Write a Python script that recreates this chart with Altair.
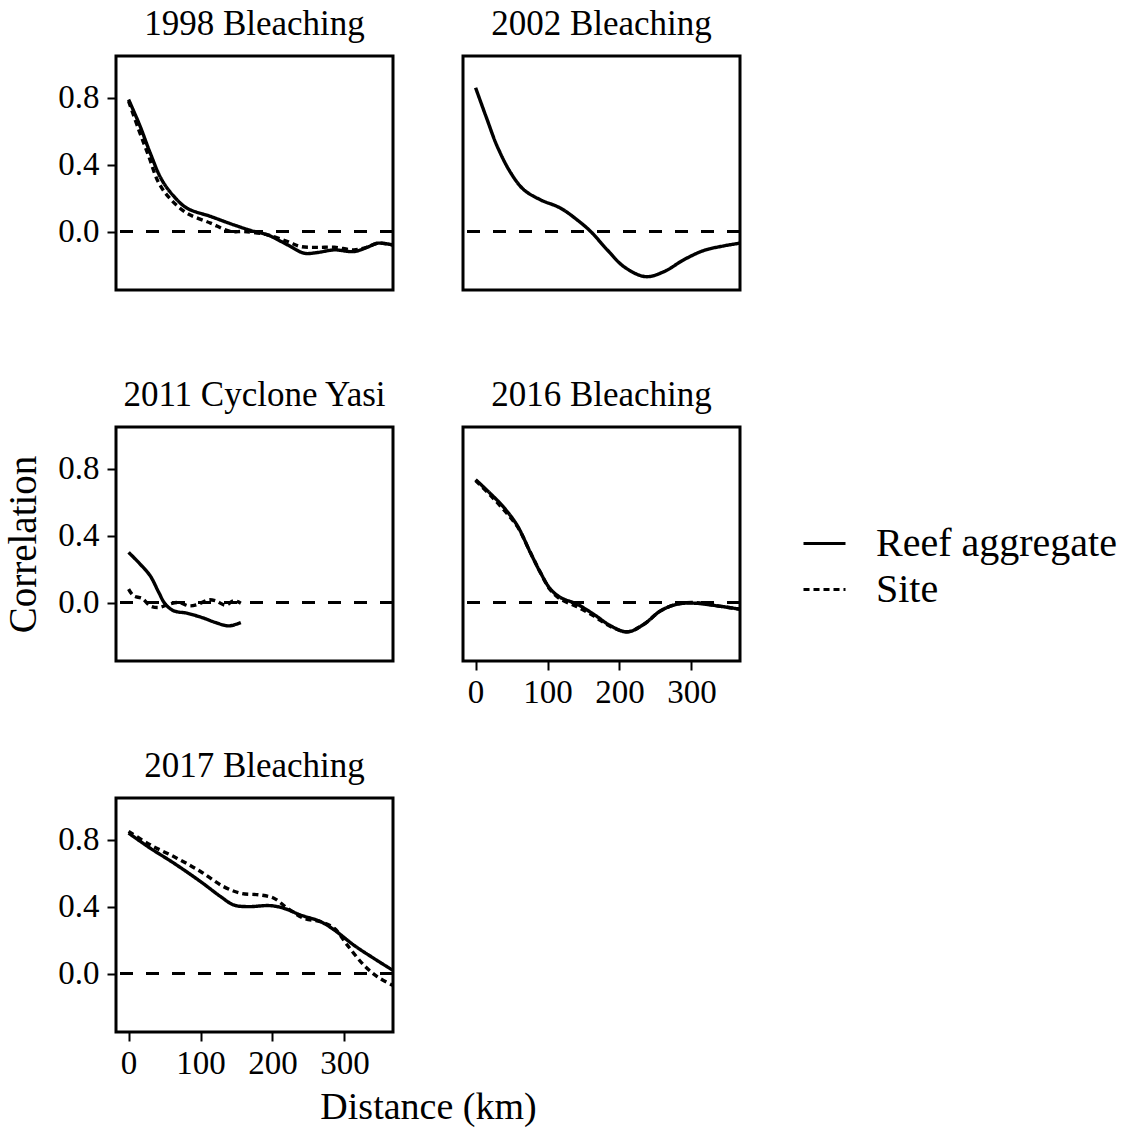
import altair as alt
import pandas as pd

FONT = "Liberation Serif"

# Correlation vs distance, per disturbance event and spatial scale
km_1998_reef = [0, 16, 30, 46, 63, 81, 114, 146, 170, 193, 221, 244, 262, 286, 313, 332, 346, 367]
r_1998_reef = [0.79, 0.63, 0.47, 0.31, 0.21, 0.14, 0.09, 0.04, 0.006, -0.02, -0.08, -0.13, -0.126, -0.11, -0.12, -0.094, -0.07, -0.08]
km_1998_site = [0, 14, 28, 42, 59, 81, 114, 142, 160, 193, 221, 239, 262, 286, 313, 332, 346, 367]
r_1998_site = [0.78, 0.61, 0.45, 0.29, 0.19, 0.11, 0.05, 0.0, 0.0, -0.02, -0.06, -0.09, -0.095, -0.094, -0.11, -0.094, -0.07, -0.08]

km_2002_reef = [0, 16, 30, 49, 67, 90, 118, 141, 160, 183, 206, 236, 262, 289, 317, 345, 367]
r_2002_reef = [0.86, 0.67, 0.51, 0.35, 0.25, 0.19, 0.14, 0.07, 0.0, -0.11, -0.21, -0.27, -0.24, -0.17, -0.114, -0.086, -0.07]

km_2011_reef = [0, 16, 30, 42, 51, 63, 81, 102, 121, 139, 156]
r_2011_reef = [0.30, 0.23, 0.16, 0.06, -0.01, -0.05, -0.064, -0.09, -0.12, -0.14, -0.12]
km_2011_site = [0, 7, 19, 30, 42, 56, 70, 84, 97, 111, 121, 135, 146, 156]
r_2011_site = [0.08, 0.04, 0.024, -0.02, -0.03, -0.01, 0.0, -0.02, -0.01, 0.016, 0.01, -0.016, 0.01, -0.004]

km_2016_reef = [0, 21, 39, 58, 76, 90, 104, 118, 141, 164, 188, 211, 234, 257, 280, 303, 336, 367]
r_2016_reef = [0.735, 0.65, 0.57, 0.46, 0.30, 0.18, 0.08, 0.03, -0.01, -0.07, -0.14, -0.176, -0.13, -0.05, -0.01, -0.004, -0.02, -0.04]
km_2016_site = [0, 21, 39, 58, 76, 90, 104, 118, 141, 164, 188, 211, 234, 257, 280, 303, 336, 367]
r_2016_site = [0.73, 0.64, 0.555, 0.455, 0.30, 0.18, 0.075, 0.02, -0.025, -0.08, -0.145, -0.175, -0.13, -0.05, -0.01, 0.0, -0.02, -0.04]

km_2017_reef = [0, 30, 63, 100, 128, 146, 165, 197, 216, 239, 267, 286, 313, 341, 367]
r_2017_reef = [0.84, 0.75, 0.66, 0.55, 0.46, 0.41, 0.40, 0.406, 0.39, 0.35, 0.31, 0.26, 0.17, 0.09, 0.02]
km_2017_site = [0, 30, 67, 100, 132, 156, 183, 202, 221, 244, 267, 286, 304, 327, 346, 367]
r_2017_site = [0.85, 0.77, 0.69, 0.61, 0.52, 0.48, 0.47, 0.45, 0.39, 0.33, 0.31, 0.27, 0.17, 0.05, -0.02, -0.07]

series = [
    ("1998 Bleaching", "Reef aggregate", km_1998_reef, r_1998_reef),
    ("1998 Bleaching", "Site", km_1998_site, r_1998_site),
    ("2002 Bleaching", "Reef aggregate", km_2002_reef, r_2002_reef),
    ("2011 Cyclone Yasi", "Reef aggregate", km_2011_reef, r_2011_reef),
    ("2011 Cyclone Yasi", "Site", km_2011_site, r_2011_site),
    ("2016 Bleaching", "Reef aggregate", km_2016_reef, r_2016_reef),
    ("2016 Bleaching", "Site", km_2016_site, r_2016_site),
    ("2017 Bleaching", "Reef aggregate", km_2017_reef, r_2017_reef),
    ("2017 Bleaching", "Site", km_2017_site, r_2017_site),
]

rows = []
for event, scale, kms, rs in series:
    for k, r in zip(kms, rs):
        rows.append({"event": event, "scale": scale, "km": k, "r": r})
df = pd.DataFrame(rows)

scale_types = ["Reef aggregate", "Site"]
W, H = 277, 234
x_scale = alt.Scale(domain=[-17.5, 367.5], nice=False, zero=False)
y_scale = alt.Scale(domain=[-0.35, 1.05], nice=False, zero=False)


def y_axis(title=None):
    kw = dict(values=[0, 0.4, 0.8], format=".1f", grid=False, domain=False,
              tickSize=9, tickWidth=2, tickColor="black", labelPadding=8,
              labelFontSize=33, labelFont=FONT, labelColor="black")
    if title:
        kw.update(title=title, titleFont=FONT, titleFontSize=39, titleFontWeight="normal",
                  titleColor="black", titlePadding=14)
    else:
        kw.update(title=None)
    return alt.Axis(**kw)


def x_axis(title=None, title_x=None):
    kw = dict(values=[0, 100, 200, 300], grid=False, domain=False,
              tickSize=9, tickWidth=2, tickColor="black", labelPadding=6,
              labelFontSize=33, labelFont=FONT, labelColor="black")
    if title:
        kw.update(title=title, titleFont=FONT, titleFontSize=38, titleFontWeight="normal",
                  titleColor="black", titlePadding=8, titleX=title_x, titleAnchor="middle",
                  titleAlign="center")
    else:
        kw.update(title=None)
    return alt.Axis(**kw)


def panel(event, xa=None, ya=None):
    base = alt.Chart(df).transform_filter(alt.datum.event == event)
    lines = base.mark_line(color="black", strokeWidth=3.4, clip=True,
                           interpolate="catmull-rom").encode(
        x=alt.X("km:Q", scale=x_scale, axis=xa),
        y=alt.Y("r:Q", scale=y_scale, axis=ya),
        strokeDash=alt.StrokeDash(
            "scale:N",
            scale=alt.Scale(domain=scale_types, range=[[1, 0], [6, 4]]),
            legend=alt.Legend(
                title=None, orient="none", legendX=686, legendY=465,
                symbolType="stroke", symbolSize=1764, symbolStrokeWidth=3,
                symbolStrokeColor="black", labelFont=FONT, labelFontSize=40,
                labelColor="black", labelOffset=29, rowPadding=3, padding=0,
                labelLimit=400,
            ),
        ),
        detail="scale:N",
    )
    zero = base.transform_aggregate(n="count()").transform_calculate(
        zero="0"
    ).mark_rule(color="black", strokeWidth=3, strokeDash=[13, 13]).encode(
        y=alt.Y("zero:Q", scale=y_scale, axis=ya)
    )
    return alt.layer(zero, lines).properties(
        width=W, height=H,
        title=alt.TitleParams(event, font=FONT, fontSize=35, fontWeight="normal",
                              color="black", anchor="middle", offset=14),
    )


p1998 = panel("1998 Bleaching", xa=None, ya=y_axis())
p2002 = panel("2002 Bleaching", xa=None, ya=None)
p2011 = panel("2011 Cyclone Yasi", xa=None, ya=y_axis("Correlation"))
p2016 = panel("2016 Bleaching", xa=x_axis(), ya=None)
p2017 = panel("2017 Bleaching", xa=x_axis("Distance (km)", title_x=312), ya=y_axis())

chart = alt.concat(
    p1998, p2002, p2011, p2016, p2017,
    columns=2,
    spacing={"row": 137, "column": 70},
    bounds="flush",
).resolve_scale(
    strokeDash="shared"
).configure(
    background="white", padding={"left": 3, "top": 5, "right": 5, "bottom": 5}
).configure_view(
    stroke="black", strokeWidth=3
)

chart.save("out.html", embed_options={"renderer": "svg", "actions": False})
